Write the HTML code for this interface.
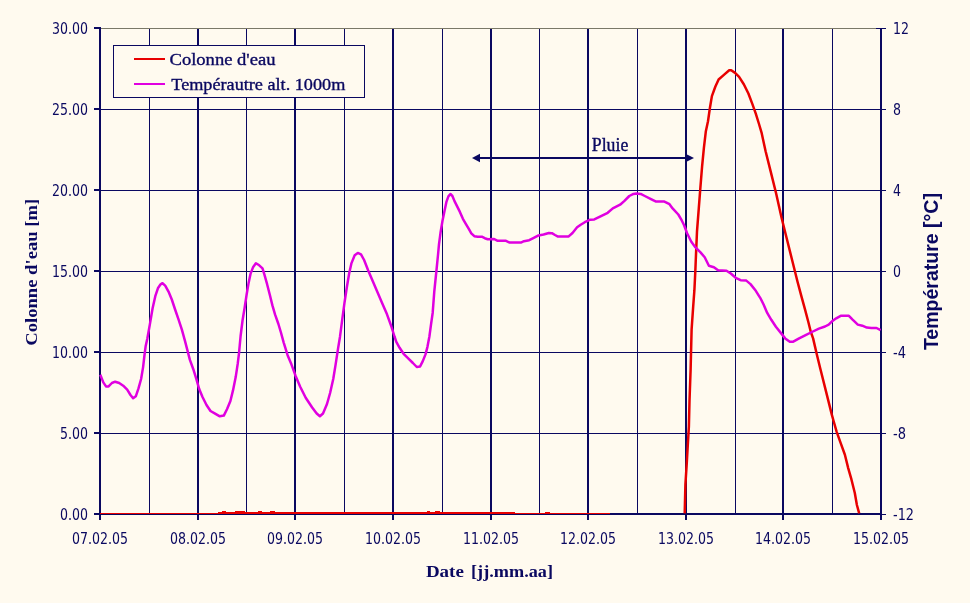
<!DOCTYPE html><html><head><meta charset="utf-8"><title>Chart</title><style>
html,body{margin:0;padding:0;background:#FFFAEF;}
svg{display:block;}
.n{font-family:"DejaVu Sans","Liberation Sans",sans-serif;font-size:15px;fill:#0A0860;}
.t{font-family:"Liberation Serif","Times New Roman",serif;font-size:18px;fill:#0A0860;stroke:#0A0860;stroke-width:0.35px;}
.tb{font-family:"Liberation Serif","Times New Roman",serif;font-size:17.5px;font-weight:bold;fill:#0A0860;}
.ab{font-family:"Liberation Sans",Arial,sans-serif;font-size:20px;font-weight:bold;fill:#0A0860;}
.tl{font-size:17.3px;}
</style></head><body>
<svg width="970" height="603" viewBox="0 0 970 603">
<rect x="0" y="0" width="970" height="603" fill="#FFFAEF"/>
<rect x="99" y="109" width="783" height="1" fill="#0A0860"/>
<rect x="99" y="190" width="783" height="1" fill="#0A0860"/>
<rect x="99" y="271" width="783" height="1" fill="#0A0860"/>
<rect x="99" y="352" width="783" height="1" fill="#0A0860"/>
<rect x="99" y="433" width="783" height="1" fill="#0A0860"/>
<rect x="149" y="29" width="1" height="485" fill="#0A0860"/>
<rect x="246" y="29" width="1" height="485" fill="#0A0860"/>
<rect x="344" y="29" width="1" height="485" fill="#0A0860"/>
<rect x="442" y="29" width="1" height="485" fill="#0A0860"/>
<rect x="539" y="29" width="1" height="485" fill="#0A0860"/>
<rect x="637" y="29" width="1" height="485" fill="#0A0860"/>
<rect x="735" y="29" width="1" height="485" fill="#0A0860"/>
<rect x="832" y="29" width="1" height="485" fill="#0A0860"/>
<rect x="197" y="29" width="2" height="485" fill="#0A0860"/>
<rect x="294" y="29" width="2" height="485" fill="#0A0860"/>
<rect x="392" y="29" width="2" height="485" fill="#0A0860"/>
<rect x="490" y="29" width="2" height="485" fill="#0A0860"/>
<rect x="587" y="29" width="2" height="485" fill="#0A0860"/>
<rect x="685" y="29" width="2" height="485" fill="#0A0860"/>
<rect x="782" y="29" width="2" height="485" fill="#0A0860"/>
<rect x="99" y="28" width="783" height="1" fill="#7a7868"/>
<rect x="99" y="27" width="2" height="493" fill="#0A0860"/>
<rect x="880" y="28" width="2" height="492" fill="#0A0860"/>
<rect x="876" y="28" width="10" height="1" fill="#0A0860"/>
<rect x="94" y="513" width="788" height="2" fill="#0A0860"/>
<rect x="94" y="27" width="6" height="2" fill="#0A0860"/>
<rect x="94" y="108" width="6" height="2" fill="#0A0860"/>
<rect x="94" y="189" width="6" height="2" fill="#0A0860"/>
<rect x="94" y="270" width="6" height="2" fill="#0A0860"/>
<rect x="94" y="351" width="6" height="2" fill="#0A0860"/>
<rect x="94" y="432" width="6" height="2" fill="#0A0860"/>
<rect x="94" y="513" width="6" height="2" fill="#0A0860"/>
<rect x="880" y="28" width="6" height="1" fill="#0A0860"/>
<rect x="880" y="109" width="6" height="1" fill="#0A0860"/>
<rect x="880" y="190" width="6" height="1" fill="#0A0860"/>
<rect x="880" y="271" width="6" height="1" fill="#0A0860"/>
<rect x="880" y="352" width="6" height="1" fill="#0A0860"/>
<rect x="880" y="433" width="6" height="1" fill="#0A0860"/>
<rect x="880" y="514" width="6" height="1" fill="#0A0860"/>
<rect x="99" y="513" width="2" height="7" fill="#0A0860"/>
<rect x="197" y="513" width="2" height="7" fill="#0A0860"/>
<rect x="294" y="513" width="2" height="7" fill="#0A0860"/>
<rect x="392" y="513" width="2" height="7" fill="#0A0860"/>
<rect x="490" y="513" width="2" height="7" fill="#0A0860"/>
<rect x="587" y="513" width="2" height="7" fill="#0A0860"/>
<rect x="685" y="513" width="2" height="7" fill="#0A0860"/>
<rect x="782" y="513" width="2" height="7" fill="#0A0860"/>
<rect x="880" y="513" width="2" height="7" fill="#0A0860"/>
<rect x="100" y="513" width="118" height="1" fill="#E80000"/>
<rect x="218" y="512" width="297" height="2" fill="#E80000"/>
<rect x="222" y="511" width="4" height="1" fill="#E80000"/>
<rect x="235" y="511" width="10" height="1" fill="#E80000"/>
<rect x="258" y="511" width="4" height="1" fill="#E80000"/>
<rect x="270" y="511" width="5" height="1" fill="#E80000"/>
<rect x="427" y="511" width="3" height="1" fill="#E80000"/>
<rect x="435" y="511" width="5" height="1" fill="#E80000"/>
<rect x="515" y="513" width="95" height="1" fill="#E80000"/>
<rect x="545" y="512" width="5" height="1" fill="#E80000"/>
<polyline points="684.7,513.4 685.4,484.4 686.6,465.8 687.8,445 688.9,426.4 689.5,401 690.6,370 691.6,329.6 693.2,306.4 694.4,290.2 695.3,271.6 695.8,259.2 697,231.4 698.8,208.2 700.4,187.3 702.1,166.4 703.9,147.8 705.8,131.6 708,121.3 709.9,108 711.9,96.1 715.3,86.8 718.6,79.5 723.9,74.9 729.2,70.3 731.2,70.3 735.1,72.9 739.1,76.9 743.8,84.2 748.4,93.5 752.4,104.1 755.7,113.4 759,124 761.7,133.2 765.6,151.2 770.9,172.4 776.2,193.7 781.5,217.5 786.8,238.8 792.1,260 797.4,281.2 801.5,296.6 805,309.4 808.4,322.2 810.7,331.5 813.1,338.4 816.6,353.5 820.2,368.2 826,391.4 831.8,414.6 833.3,420 836.6,431.6 840.7,443.2 844.9,454.8 848.2,468.1 851.5,479.7 854.8,493 856.9,505 859.2,513.4" fill="none" stroke="#E80000" stroke-width="2.5" stroke-linejoin="round"/>
<polyline points="100.3,374.8 103.3,382.4 106,386.4 108.6,386.4 111.9,383 115.2,381.7 119.2,383 123.2,385.7 127.2,389.7 130.5,395 133.1,398.3 135.8,396.3 138.5,388.4 141.1,379 143.1,367.1 144.5,355 145.7,345.9 147.3,338.7 149.9,324.1 152.6,308.2 155.3,296.2 157.9,288.3 160.6,284.3 162.5,283.2 165.2,285.6 168.5,291.6 171.8,299.5 175.1,309.5 178.5,319.4 181.8,329.4 185.1,341.3 189.9,359.9 193.3,369.2 196.6,379.8 199.2,389.1 202.5,397 206.5,405 210.5,411 215.1,413.6 219.8,416.3 223.8,415.6 227.1,409 230.4,401 233,390.4 235.7,377.1 237.7,363.9 239,353.3 240.6,336 242.6,320 244.6,308 246.6,294.8 248.6,282.9 250.6,273.6 253.2,266.9 255.9,263.2 259.2,265.3 262.5,268.3 264.5,274.9 267.1,284.2 269.8,294.8 272.4,305.4 275.1,314.7 278.4,324 280.8,332 283.7,342.6 287.6,355.2 291.5,364.6 295.5,375.7 300.2,386.7 305.7,397.7 312,407.2 316.7,413.5 319.9,416.3 323,413.5 327,404 330.1,393 333.3,378.8 335.6,364.6 338,348.9 340,336.7 342.1,320.6 344.4,303.3 346.8,287.5 349.2,273.3 351.5,263.1 354.7,255.2 357.8,252.9 361,254.4 364.1,260 368.1,270.2 372.8,281.2 377.5,292.2 382.2,303.3 387,314.3 391.2,326 394.5,336.5 396.3,341.8 399.6,347.8 403.6,353.8 408.2,358.4 412.9,363 416.8,367 420.1,366.4 422.8,361.1 425.5,354.4 427.4,347.1 429.4,336.5 431,324.6 432.7,312.7 434.3,291.4 436.5,270 438,255 439,244.2 440.5,232.8 442.5,220.8 444.5,210.9 446.4,201.9 448.4,196.4 450.4,194 452.4,196 454.4,200.9 456.9,205.9 459.9,211.9 462.9,218.8 465.8,223.8 468.8,228.8 471.3,233.3 474.3,236.2 477.8,236.7 481.8,236.7 484.8,238.2 487.7,239.2 494.1,239 497.2,240.7 505.5,240.7 509.6,242.6 520.9,242.6 524,241.2 529.2,240.2 533.3,238.1 538.5,235.4 543.6,234.5 548.8,233 551.9,233.2 555,235 558,236.6 568.4,236.6 572.5,233 577.1,227.3 580.7,224.7 584.8,222.2 590.2,219.7 594.3,219.4 600.5,216.3 607.7,212.8 612.8,208.4 620.1,204.7 624.2,201.1 629.3,196 633.5,193.9 636.5,193.4 640.7,193.9 644.8,196 651,199.1 656.1,201.6 664.4,201.6 669.5,204.2 672.6,208.4 678.3,214.5 681.9,220.7 684,225 687.1,233.3 691.3,241.8 695.5,247.4 700.5,252.4 704.7,257.3 708.9,265.8 713.9,267.2 718.1,270.3 726.5,270.7 730.8,273.5 735.7,277.8 740.6,280.2 746.3,280.6 750.5,284.1 755.8,290.8 760.2,297.8 763.7,304.7 767.2,312.9 771.3,319.8 775.9,326.8 780.6,332.6 785.2,338.4 789.8,341.7 793.3,341.7 799.1,338.4 806.1,334.9 811.9,332 818.9,328.6 825,326.5 828.7,324.6 832.5,320.9 836.2,318.3 840.7,315.8 848.9,315.8 852.6,319.6 857.8,324.6 862.3,325.7 866.8,327.6 871.3,328 876.5,328 880.6,330.2" fill="none" stroke="#E000E0" stroke-width="2.5" stroke-linejoin="round"/>
<rect x="479" y="157" width="207" height="2" fill="#0A0860"/>
<polygon points="472,158 480,153.8 480,162.2" fill="#0A0860"/>
<polygon points="694,158 685.5,153.8 685.5,162.2" fill="#0A0860"/>
<text class="t" x="591.8" y="151" textLength="36.5" lengthAdjust="spacingAndGlyphs">Pluie</text>
<rect x="113.5" y="45.5" width="251" height="52" fill="#FFFAEF" stroke="#0A0860" stroke-width="1"/>
<rect x="134" y="58" width="31" height="2" fill="#E80000"/>
<rect x="134" y="83" width="31" height="2" fill="#E000E0"/>
<text class="t tl" x="169.5" y="65" textLength="106" lengthAdjust="spacingAndGlyphs">Colonne d&#39;eau</text>
<text class="t tl" x="171.3" y="90" textLength="174" lengthAdjust="spacingAndGlyphs">Tempérautre alt. 1000m</text>
<text class="n" x="88" y="33.8" text-anchor="end" textLength="36" lengthAdjust="spacingAndGlyphs">30.00</text>
<text class="n" x="88" y="114.8" text-anchor="end" textLength="36" lengthAdjust="spacingAndGlyphs">25.00</text>
<text class="n" x="88" y="195.8" text-anchor="end" textLength="36" lengthAdjust="spacingAndGlyphs">20.00</text>
<text class="n" x="88" y="276.8" text-anchor="end" textLength="36" lengthAdjust="spacingAndGlyphs">15.00</text>
<text class="n" x="88" y="357.8" text-anchor="end" textLength="36" lengthAdjust="spacingAndGlyphs">10.00</text>
<text class="n" x="88" y="438.8" text-anchor="end" textLength="28" lengthAdjust="spacingAndGlyphs">5.00</text>
<text class="n" x="88" y="519.8" text-anchor="end" textLength="28" lengthAdjust="spacingAndGlyphs">0.00</text>
<text class="n" x="893" y="33.8" textLength="16" lengthAdjust="spacingAndGlyphs">12</text>
<text class="n" x="893" y="114.8" textLength="8" lengthAdjust="spacingAndGlyphs">8</text>
<text class="n" x="893" y="195.8" textLength="8" lengthAdjust="spacingAndGlyphs">4</text>
<text class="n" x="893" y="276.8" textLength="8" lengthAdjust="spacingAndGlyphs">0</text>
<text class="n" x="893" y="357.8" textLength="13" lengthAdjust="spacingAndGlyphs">-4</text>
<text class="n" x="893" y="438.8" textLength="13" lengthAdjust="spacingAndGlyphs">-8</text>
<text class="n" x="893" y="519.8" textLength="21" lengthAdjust="spacingAndGlyphs">-12</text>
<text class="n" x="100.0" y="543.8" text-anchor="middle" textLength="56" lengthAdjust="spacingAndGlyphs">07.02.05</text>
<text class="n" x="198.0" y="543.8" text-anchor="middle" textLength="56" lengthAdjust="spacingAndGlyphs">08.02.05</text>
<text class="n" x="295.0" y="543.8" text-anchor="middle" textLength="56" lengthAdjust="spacingAndGlyphs">09.02.05</text>
<text class="n" x="393.0" y="543.8" text-anchor="middle" textLength="56" lengthAdjust="spacingAndGlyphs">10.02.05</text>
<text class="n" x="491.0" y="543.8" text-anchor="middle" textLength="56" lengthAdjust="spacingAndGlyphs">11.02.05</text>
<text class="n" x="588.0" y="543.8" text-anchor="middle" textLength="56" lengthAdjust="spacingAndGlyphs">12.02.05</text>
<text class="n" x="686.0" y="543.8" text-anchor="middle" textLength="56" lengthAdjust="spacingAndGlyphs">13.02.05</text>
<text class="n" x="783.0" y="543.8" text-anchor="middle" textLength="56" lengthAdjust="spacingAndGlyphs">14.02.05</text>
<text class="n" x="881.0" y="543.8" text-anchor="middle" textLength="56" lengthAdjust="spacingAndGlyphs">15.02.05</text>
<text class="tb" y="577"><tspan x="425.9" textLength="38" lengthAdjust="spacingAndGlyphs">Date</tspan> <tspan x="471" textLength="82" lengthAdjust="spacingAndGlyphs">[jj.mm.aa]</tspan></text>
<text class="tb" transform="translate(37.2,272.3) rotate(-90)" text-anchor="middle" textLength="147" lengthAdjust="spacingAndGlyphs">Colonne d&#39;eau [m]</text>
<text class="ab" transform="translate(937.8,271.6) rotate(-90)" text-anchor="middle" textLength="157" lengthAdjust="spacingAndGlyphs">Température [°C]</text>
</svg></body></html>
